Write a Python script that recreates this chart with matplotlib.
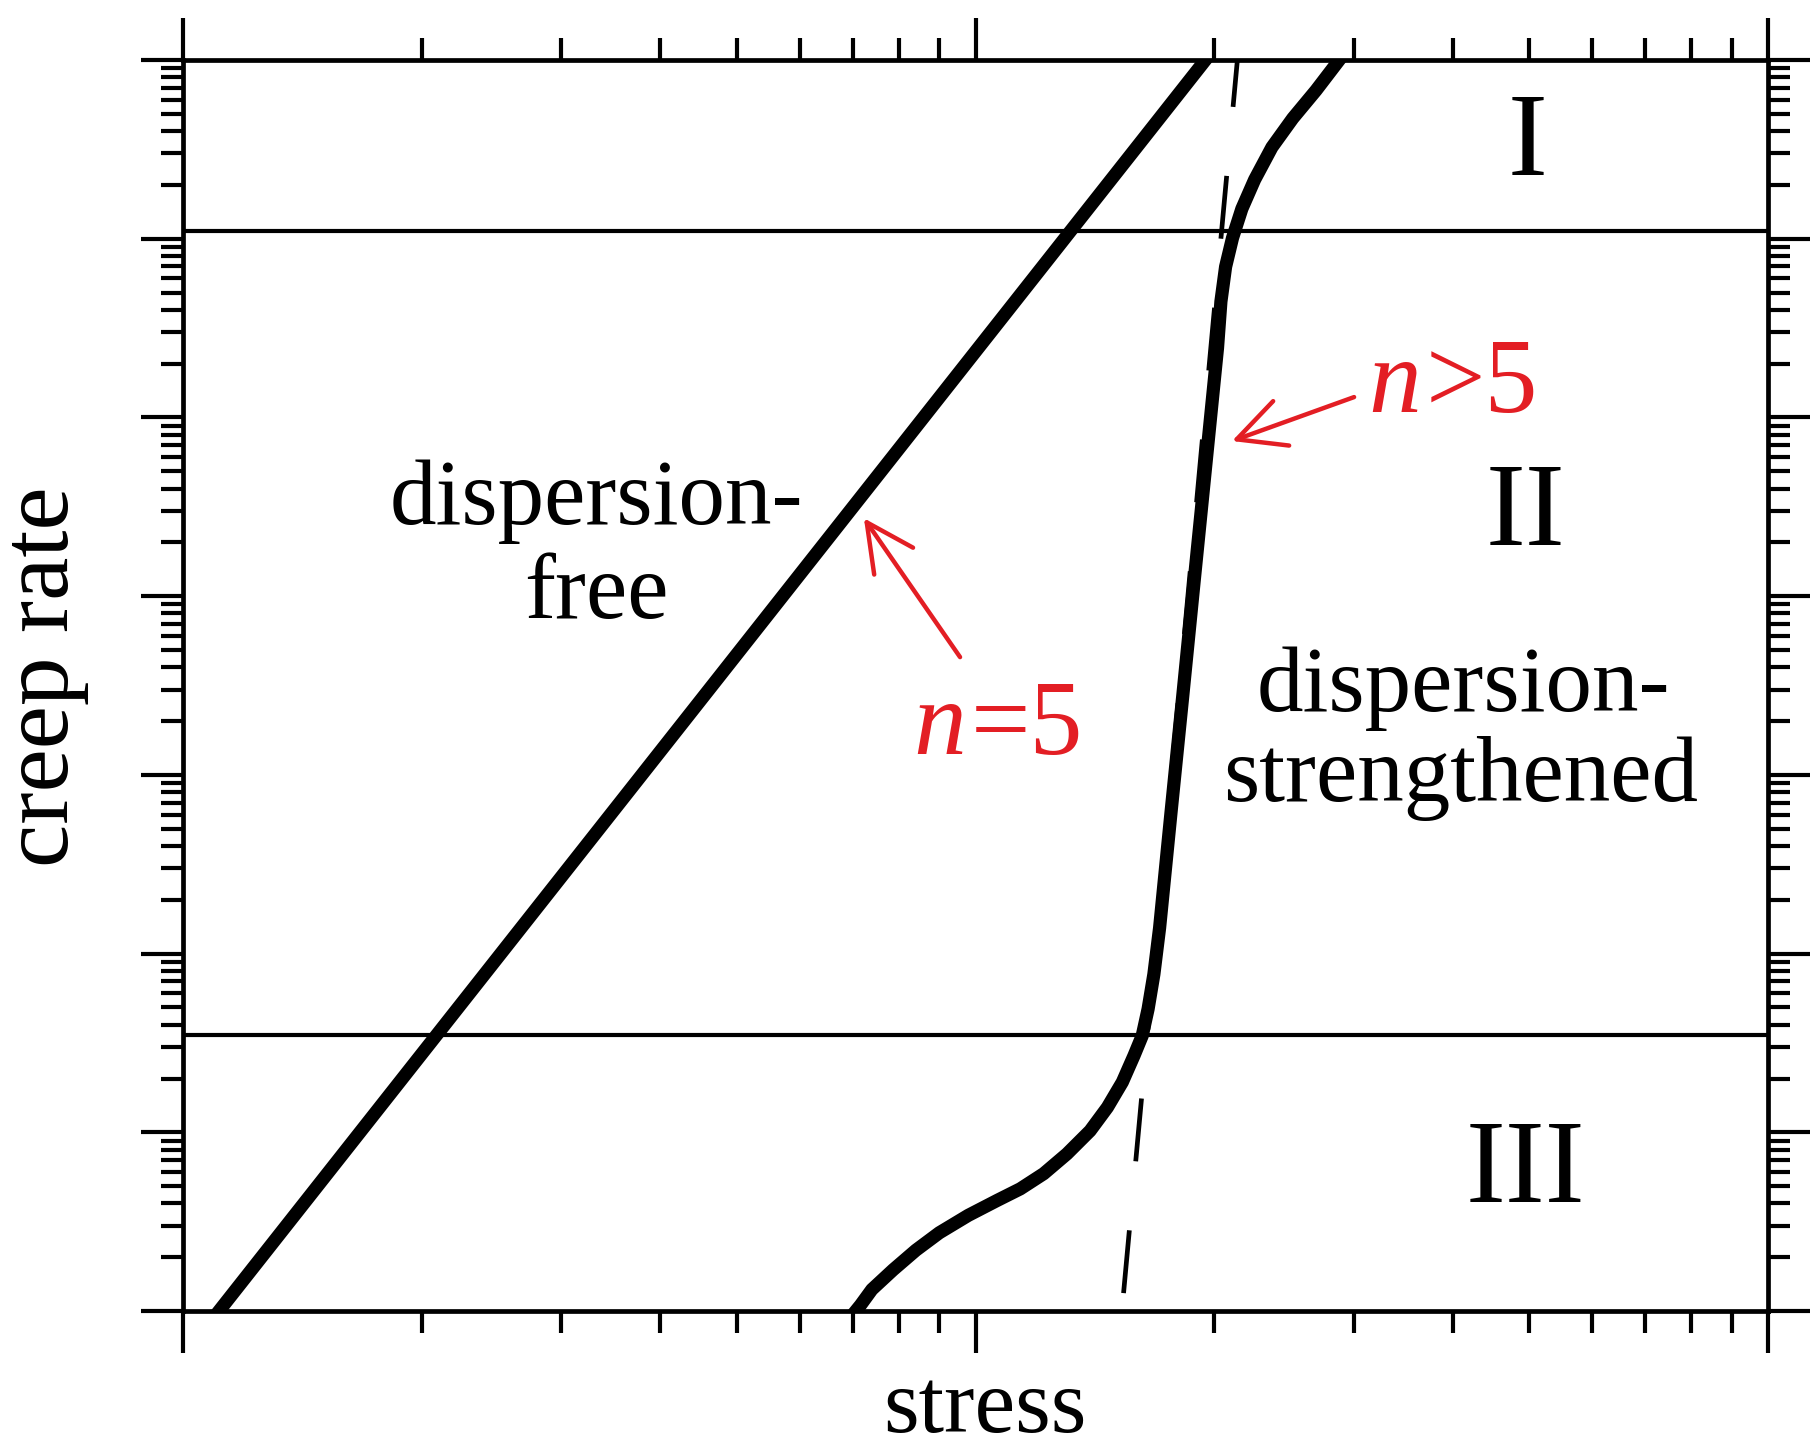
import matplotlib
matplotlib.use("Agg")
import matplotlib.pyplot as plt
from matplotlib.ticker import LogLocator, NullFormatter

plt.rcParams["font.family"] = "Liberation Serif"
plt.rcParams["lines.scale_dashes"] = False

# stress (MPa) vs. creep rate (1/s), log-log
free_stress = [11.1, 195.0]
free_rate = [1e-10, 1e-3]

ds_stress = [287.7, 268.9, 251.4, 236.6, 225.0, 216.8, 211.0, 206.8, 204.0,
             202.0, 195.3, 188.8, 182.6, 176.5, 170.7, 167.9, 165.1, 162.3,
             158.5, 153.2, 146.7, 139.5, 130.4, 121.9, 113.9, 106.5, 97.9,
             90.0, 84.1, 78.7, 74.0, 71.6, 70.6]
ds_rate = [1e-3, 6.76e-4, 4.72e-4, 3.25e-4, 2.14e-4, 1.47e-4, 1.01e-4,
           6.97e-5, 4.45e-5, 2.45e-5, 5.50e-6, 1.23e-6, 2.77e-7, 6.21e-8,
           1.39e-8, 7.67e-9, 4.90e-9, 3.47e-9, 2.69e-9, 1.91e-9, 1.38e-9,
           1.02e-9, 7.57e-10, 5.87e-10, 4.83e-10, 4.16e-10, 3.43e-10,
           2.74e-10, 2.19e-10, 1.70e-10, 1.32e-10, 1.08e-10, 1e-10]

threshold_stress = [214.0, 153.0]
threshold_rate = [1e-3, 1e-10]

region_bounds = [1.10e-4, 3.5e-9]
region_names = ["I", "II", "III"]

n5_head, n5_tail = (72.3, 2.73e-6), (95.6, 4.56e-7)
ngt5_head, ngt5_tail = (210.7, 7.38e-6), (300.4, 1.30e-5)

red = "#e31e24"

fig = plt.figure(figsize=(18.18, 14.53), dpi=100)
ax = fig.add_axes([0.1007, 0.0977, 0.8718, 0.8610])

ax.set_xscale("log")
ax.set_yscale("log")
ax.set_xlim(10, 1000)
ax.set_ylim(1e-10, 1e-3)

for yb in region_bounds:
    ax.axhline(yb, color="black", lw=3.0, zorder=2)

ax.plot(threshold_stress, threshold_rate, color="black", lw=3.4,
        linestyle=(11.5, (45.4, 49.9)), zorder=3)
ax.plot(free_stress, free_rate, color="black", lw=9.5,
        solid_capstyle="projecting", zorder=4)
ax.plot(ds_stress, ds_rate, color="black", lw=9.5,
        solid_joinstyle="round", zorder=4)

# region labels
big = 86
ax.text(0.848, 0.908, region_names[0], transform=ax.transAxes, fontsize=big,
        ha="center", va="baseline")
ax.text(0.847, 0.612, region_names[1], transform=ax.transAxes, fontsize=big,
        ha="center", va="baseline")
ax.text(0.847, 0.087, region_names[2], transform=ax.transAxes, fontsize=big,
        ha="center", va="baseline")

fs = 67
ax.text(0.261, 0.629, "dispersion-", transform=ax.transAxes, fontsize=fs,
        ha="center", va="baseline")
ax.text(0.261, 0.554, "free", transform=ax.transAxes, fontsize=fs,
        ha="center", va="baseline")
ax.text(0.808, 0.480, "dispersion-", transform=ax.transAxes, fontsize=fs,
        ha="center", va="baseline")
ax.text(0.806, 0.408, "strengthened", transform=ax.transAxes, fontsize=fs,
        ha="center", va="baseline")

# stress exponent annotations: italic n followed by upright relation
rfs = 76
for xs, ys, rel in [(0.494, 0.4456, "=5"), (0.781, 0.719, ">5")]:
    ax.text(xs, ys, "n", transform=ax.transAxes, fontsize=rfs, style="italic",
            color=red, ha="right", va="baseline")
    ax.text(xs + 0.003, ys, rel, transform=ax.transAxes, fontsize=rfs,
            color=red, ha="left", va="baseline")
arrow = dict(arrowstyle="->,head_length=1.7,head_width=0.85",
             mutation_scale=20, color=red, lw=3.2, shrinkA=0, shrinkB=0)
ax.annotate("", xy=n5_head, xytext=n5_tail, arrowprops=arrow, zorder=5)
ax.annotate("", xy=ngt5_head, xytext=ngt5_tail, arrowprops=arrow, zorder=5)

# axes labels
ax.set_xlabel("stress", fontsize=66, va="baseline")
ax.xaxis.set_label_coords(0.506, -0.0967)
ax.set_ylabel("creep rate", fontsize=70, va="baseline")
ax.yaxis.set_label_coords(-0.0726, 0.507)

# ticks on every side, pointing outward
for axis in (ax.xaxis, ax.yaxis):
    axis.set_major_locator(LogLocator(base=10, numticks=100))
    axis.set_minor_locator(LogLocator(base=10, subs=range(2, 10), numticks=100))
    axis.set_major_formatter(NullFormatter())
    axis.set_minor_formatter(NullFormatter())
ax.tick_params(which="both", direction="out", top=True, right=True,
               bottom=True, left=True, width=3.0)
ax.tick_params(which="major", length=30)
ax.tick_params(which="minor", length=16)
for s in ax.spines.values():
    s.set_linewidth(3.4)

fig.savefig("out.png", dpi=100)
